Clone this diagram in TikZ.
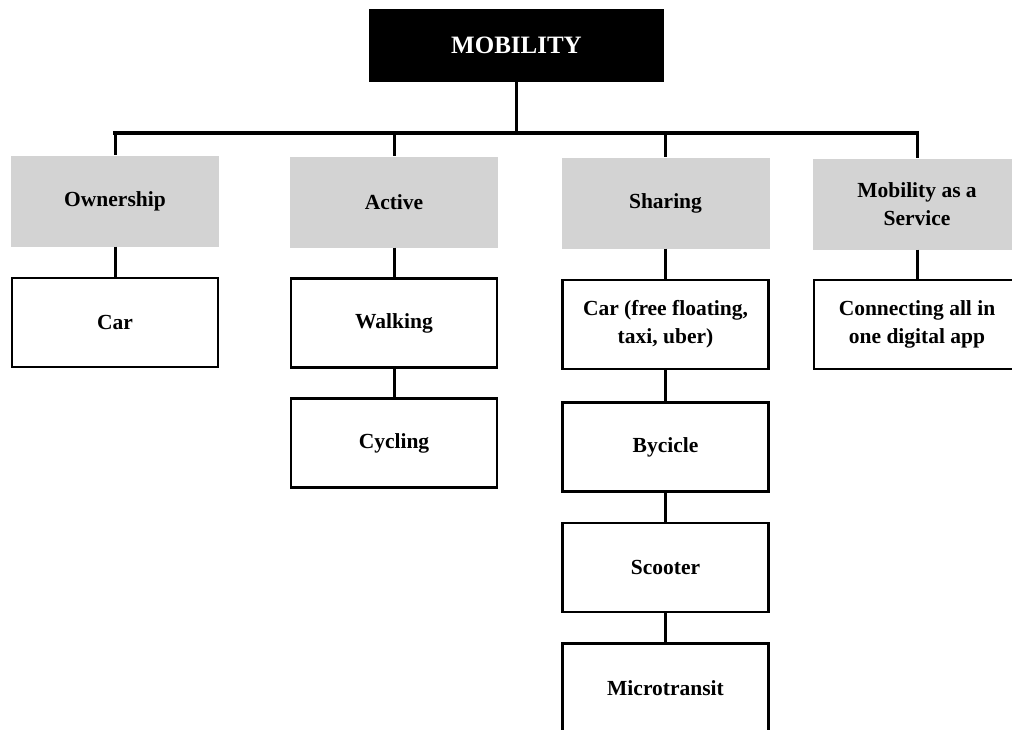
\documentclass[tikz,border=0pt]{standalone}
\usepackage{fontspec}
\setmainfont{Liberation Serif}
\definecolor{boxgray}{RGB}{211,211,211}
\begin{document}
\begin{tikzpicture}[x=1pt,y=-1pt,
  txt/.style={font=\fontsize{21.5}{28}\selectfont\bfseries, align=center, inner sep=0pt},
  catbox/.style={txt, fill=boxgray, minimum width=208pt, minimum height=91pt},
  itembox/.style={txt, draw=black, line width=2.4pt, fill=white, minimum width=206pt, minimum height=89pt},
  topbox/.style={fill=black, text=white, font=\fontsize{25}{30}\selectfont\bfseries, minimum width=295pt, minimum height=73pt, inner sep=0pt},
  link/.style={line width=3pt},
  bus/.style={line width=3.3pt, line cap=rect}]
\useasboundingbox (0,0) rectangle (1012,729);
\clip (0,0) rectangle (1012,729);
\fill[white] (0,0) rectangle (1012,729);

\node[topbox] (mob) at (516.5,45.5) {MOBILITY};
\coordinate (busy) at (0,133);

\node[catbox] (own) at (115,201) {Ownership};
\node[catbox] (act) at (394,202) {Active};
\node[catbox] (sha) at (665.5,203) {Sharing};
\node[catbox] (maas) at (917,204) {Mobility as a\\Service};

\node[itembox] (car) at (115,322.5) {Car};
\node[itembox] (walk) at (394,323) {Walking};
\node[itembox] (cyc) at (394,443) {Cycling};
\node[itembox] (carsh) at (665.5,324.5) {Car (free floating,\\taxi, uber)};
\node[itembox] (bike) at (665.5,447) {Bycicle};
\node[itembox] (scoot) at (665.5,567.5) {Scooter};
\node[itembox] (micro) at (665.5,688) {Microtransit};
\node[itembox] (conn) at (917,324.5) {Connecting all in\\one digital app};

\draw[link] (mob.south) -- (mob.south |- busy);
\draw[bus] (own.north |- busy) -- (maas.north |- busy);
\foreach \n in {own,act,sha,maas}
  \draw[link] (\n.north |- busy) -- (\n.north);

\draw[link] (own.south) -- (car.north);
\draw[link] (act.south) -- (walk.north);
\draw[link] (walk.south) -- (cyc.north);
\draw[link] (sha.south) -- (carsh.north);
\draw[link] (carsh.south) -- (bike.north);
\draw[link] (bike.south) -- (scoot.north);
\draw[link] (scoot.south) -- (micro.north);
\draw[link] (maas.south) -- (conn.north);
\end{tikzpicture}
\end{document}
